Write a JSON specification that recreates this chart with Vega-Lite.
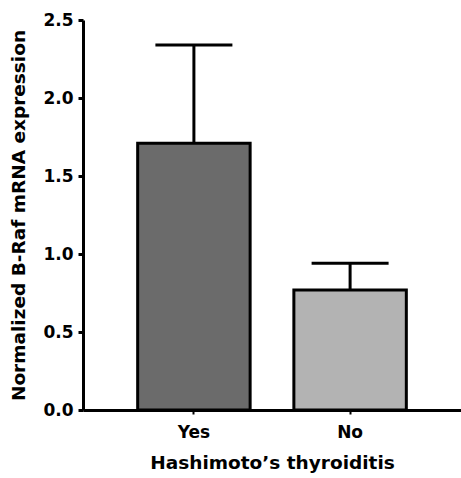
{
  "$schema": "https://vega.github.io/schema/vega-lite/v6.json",
  "autosize": "none",
  "padding": {"left": 83, "top": 20, "right": 0, "bottom": 68},
  "width": 378,
  "height": 390,
  "config": {
    "view": {"stroke": null},
    "font": "DejaVu Sans",
    "axis": {
      "grid": false,
      "domainColor": "black",
      "domainWidth": 3,
      "tickColor": "black",
      "tickWidth": 3,
      "labelColor": "black",
      "titleColor": "black",
      "labelFont": "DejaVu Sans",
      "titleFont": "DejaVu Sans",
      "labelFontWeight": "bold",
      "titleFontWeight": "bold",
      "labelFontSize": 17,
      "titleFontSize": 18.5
    }
  },
  "data": {
    "values": [
      {"group": "Yes", "mean": 1.71, "upper": 2.34},
      {"group": "No", "mean": 0.77, "upper": 0.94}
    ]
  },
  "encoding": {
    "x": {
      "field": "group",
      "type": "nominal",
      "sort": ["Yes", "No"],
      "scale": {"paddingInner": 0.28, "paddingOuter": 0.35},
      "axis": {
        "title": "Hashimoto’s thyroiditis",
        "labelAngle": 0,
        "tickSize": 4,
        "tickWidth": 2,
        "labelPadding": 10,
        "titlePadding": 13
      }
    }
  },
  "layer": [
    {
      "mark": {"type": "rule", "stroke": "black", "strokeWidth": 3},
      "encoding": {
        "y": {"field": "mean", "type": "quantitative"},
        "y2": {"field": "upper"}
      }
    },
    {
      "mark": {"type": "tick", "color": "black", "size": 77, "thickness": 3, "opacity": 1},
      "encoding": {
        "y": {"field": "upper", "type": "quantitative"}
      }
    },
    {
      "mark": {"type": "bar", "stroke": "black", "strokeWidth": 3},
      "encoding": {
        "y": {
          "field": "mean",
          "type": "quantitative",
          "scale": {"domain": [0, 2.5], "nice": false},
          "axis": {
            "title": "Normalized B-Raf mRNA expression",
            "values": [0, 0.5, 1, 1.5, 2, 2.5],
            "format": ".1f",
            "tickSize": 5,
            "labelPadding": 5,
            "titlePadding": 14
          }
        },
        "fill": {
          "field": "group",
          "type": "nominal",
          "scale": {"domain": ["Yes", "No"], "range": ["#6b6b6b", "#b3b3b3"]},
          "legend": null
        }
      }
    }
  ]
}
